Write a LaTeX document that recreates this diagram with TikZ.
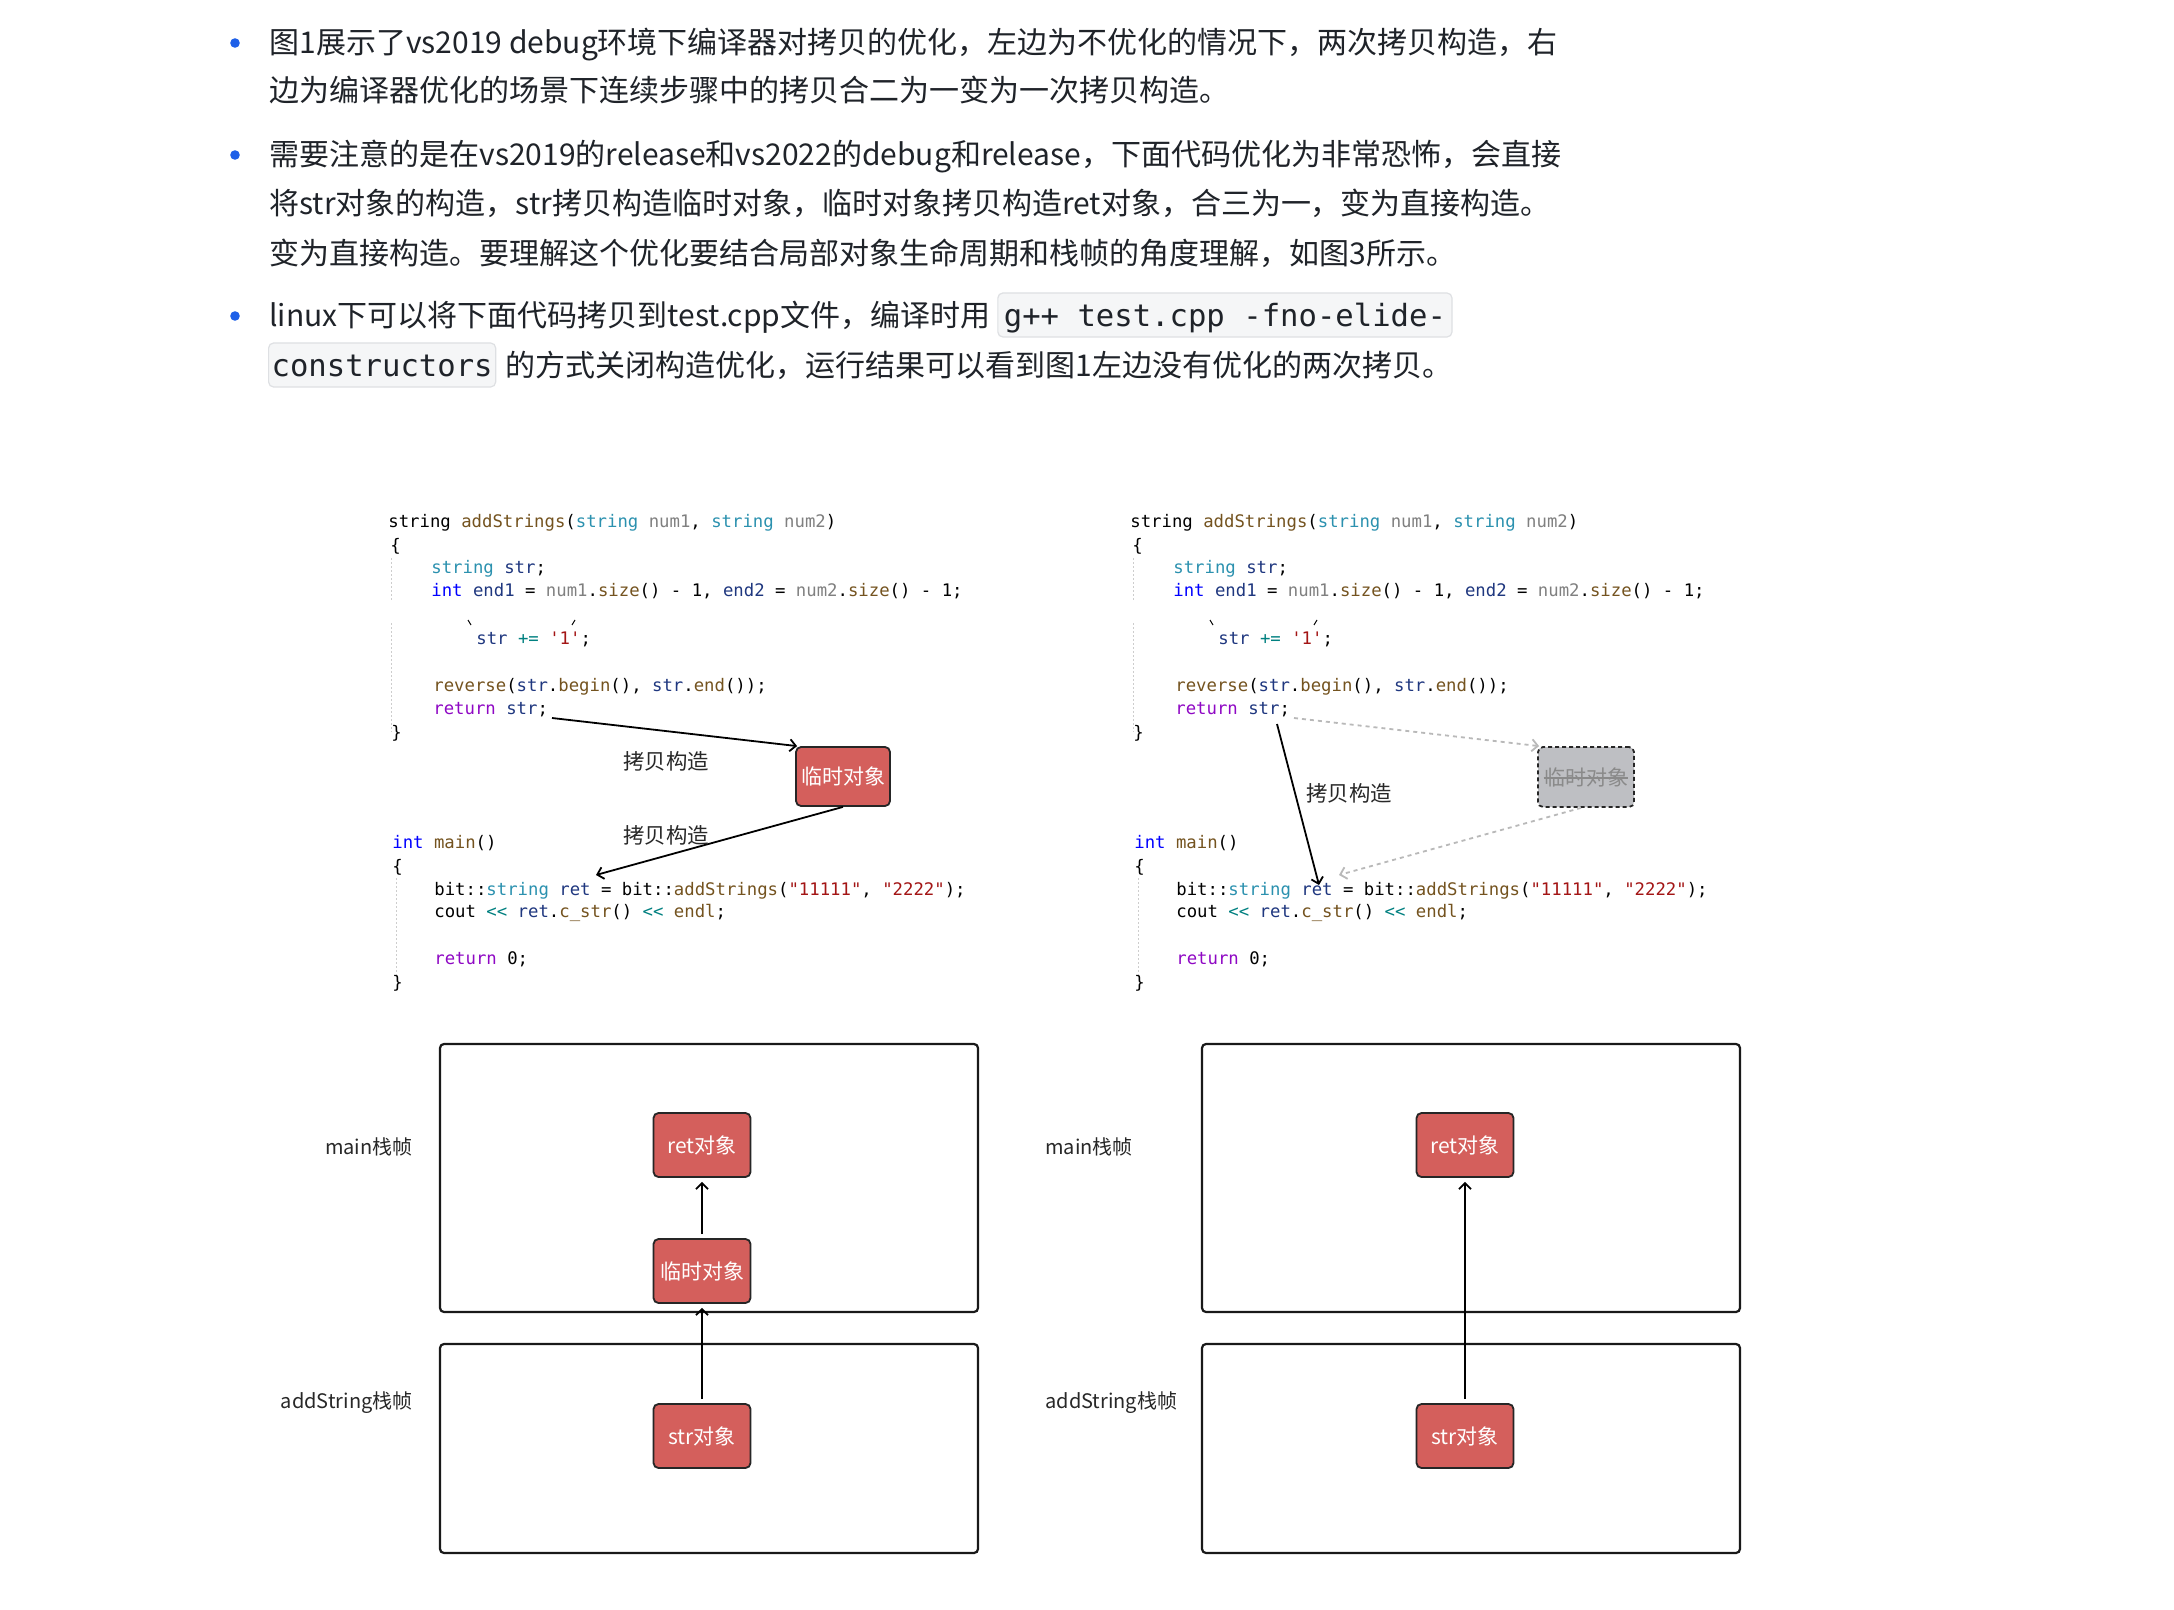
\documentclass[tikz,border=0pt]{standalone}
\usepackage{fontspec}
\setmainfont{Noto Sans CJK SC}
\setmonofont{DejaVu Sans Mono}
\usetikzlibrary{arrows.meta}
\definecolor{txt}{RGB}{31,35,41}
\definecolor{bulletc}{RGB}{30,96,232}
\definecolor{codebg}{RGB}{245,246,247}
\definecolor{codebd}{RGB}{222,224,227}
\definecolor{ctype}{RGB}{43,145,175}
\definecolor{ckw}{RGB}{0,0,255}
\definecolor{cfn}{RGB}{116,83,31}
\definecolor{cpar}{RGB}{128,128,128}
\definecolor{cloc}{RGB}{31,55,127}
\definecolor{cret}{RGB}{143,8,196}
\definecolor{cop}{RGB}{0,128,128}
\definecolor{clit}{RGB}{163,21,21}
\definecolor{objred}{RGB}{212,95,92}
\definecolor{objgray}{RGB}{190,191,195}
\definecolor{guidec}{RGB}{205,205,205}
\definecolor{ghostc}{RGB}{185,185,185}
\definecolor{ghosttxt}{RGB}{138,138,138}
\definecolor{lbl}{RGB}{40,40,40}
\newcommand\cxtype[1]{\textcolor{ctype}{#1}}
\newcommand\cxkw[1]{\textcolor{ckw}{#1}}
\newcommand\cxfn[1]{\textcolor{cfn}{#1}}
\newcommand\cxpar[1]{\textcolor{cpar}{#1}}
\newcommand\cxloc[1]{\textcolor{cloc}{#1}}
\newcommand\cxret[1]{\textcolor{cret}{#1}}
\newcommand\cxop[1]{\textcolor{cop}{#1}}
\newcommand\cxlit[1]{\textcolor{clit}{#1}}
\newcommand\codeblock[2]{%
\node[codeline] (#1h) at (#2+388,527) {string \cxfn{addStrings}(\cxtype{string} \cxpar{num1}, \cxtype{string} \cxpar{num2})};
\node[codeline] (#1b1) at (#2+390,551) {\{};
\node[codeline] (#1s1) at (#2+431,573) {\cxtype{string} \cxloc{str};};
\node[codeline] (#1s2) at (#2+431,596) {\cxkw{int} \cxloc{end1} = \cxpar{num1}.\cxfn{size}() - 1, \cxloc{end2} = \cxpar{num2}.\cxfn{size}() - 1;};
\node[codeline] (#1s3) at (#2+476,644) {\cxloc{str} \cxop{+=} \cxlit{'1'};};
\node[codeline] (#1s4) at (#2+433,691) {\cxfn{reverse}(\cxloc{str}.\cxfn{begin}(), \cxloc{str}.\cxfn{end}());};
\node[codeline] (#1s5) at (#2+433,714) {\cxret{return} \cxloc{str};};
\node[codeline] (#1b2) at (#2+391,738) {\}};
\node[codeline] (#1m1) at (#2+392,848) {\cxkw{int} \cxfn{main}()};
\node[codeline] (#1m2) at (#2+392,872) {\{};
\node[codeline] (#1m3) at (#2+434,895) {bit::\cxtype{string} \cxloc{ret} = bit::\cxfn{addStrings}(\cxlit{"11111"}, \cxlit{"2222"});};
\node[codeline] (#1m4) at (#2+434,917) {cout \cxop{<\kern0pt<} \cxloc{ret}.\cxfn{c\_str}() \cxop{<\kern0pt<} \cxfn{endl};};
\node[codeline] (#1m5) at (#2+434,964) {\cxret{return} 0;};
\node[codeline] (#1m6) at (#2+392,988) {\}};
\draw[guideline] (#2+391,558) -- (#2+391,602);
\draw[guideline] (#2+391,623) -- (#2+391,732);
\draw[guideline] (#2+396,878) -- (#2+396,975);
\draw[tickmark] (#2+468,620) -- (#2+471,625);
\draw[tickmark] (#2+575,620) -- (#2+572,625);
}
\begin{document}
\begin{tikzpicture}[x=0.5pt,y=-0.5pt,
  para/.style={anchor=base west, inner sep=0pt, text=txt, font=\fontsize{15pt}{18pt}\selectfont},
  inlinecode/.style={anchor=base west, fill=codebg, draw=codebd, line width=0.6pt, rounded corners=2.5pt, inner xsep=3.5pt, inner ysep=0pt, text height=17pt, text depth=5pt, text=txt, font=\ttfamily\fontsize{15.3pt}{18pt}\selectfont},
  codeline/.style={anchor=base west, inner sep=0pt, text=black, font=\ttfamily\fontsize{8.65pt}{10pt}\selectfont},
  guideline/.style={guidec, line width=0.5pt, dash pattern=on 1pt off 1pt},
  tickmark/.style={black, line width=0.5pt},
  objbox/.style={draw=black!85, fill=objred, rounded corners=2.5pt, line width=0.9pt, text=white, font=\fontsize{10.5pt}{12pt}\selectfont, inner sep=0pt},
  ghostbox/.style={draw=black!85, fill=objgray, rounded corners=2.5pt, line width=0.9pt, dash pattern=on 2pt off 1.5pt, inner sep=0pt},
  frame/.style={draw=black!90, rounded corners=2pt, line width=1.1pt, inner sep=0pt},
  lab/.style={text=lbl, font=\fontsize{10.7pt}{12pt}\selectfont, inner sep=0pt},
  framelab/.style={text=lbl, font=\fontsize{10pt}{12pt}\selectfont, inner sep=0pt},
  openarrow/.style={-{Straight Barb[length=3pt,width=6pt]}, line width=0.9pt, black},
  ghostarrow/.style={-{Straight Barb[length=3pt,width=6pt]}, line width=0.9pt, ghostc, dash pattern=on 2pt off 2pt}]
\path[use as bounding box, fill=white] (0,0) rectangle (2174,1610);

% ---------- paragraphs ----------
\fill[bulletc] (235,43) circle[radius=2.4pt];
\fill[bulletc] (235,155) circle[radius=2.4pt];
\fill[bulletc] (235,316) circle[radius=2.4pt];
\node[para] (p1) at (269,54) {图1展示了vs2019 debug环境下编译器对拷贝的优化，左边为不优化的情况下，两次拷贝构造，右};
\node[para] (p2) at (269,102) {边为编译器优化的场景下连续步骤中的拷贝合二为一变为一次拷贝构造。};
\node[para] (p3) at (269,166) {需要注意的是在vs2019的release和vs2022的debug和release，下面代码优化为非常恐怖，会直接};
\node[para] (p4) at (269,215) {将str对象的构造，str拷贝构造临时对象，临时对象拷贝构造ret对象，合三为一，变为直接构造。};
\node[para] (p5) at (269,265) {变为直接构造。要理解这个优化要结合局部对象生命周期和栈帧的角度理解，如图3所示。};
\node[para] (p6) at (269,327) {linux下可以将下面代码拷贝到test.cpp文件，编译时用};
\node[inlinecode, inner xsep=3pt] (cb1) at ([xshift=3.2pt]p6.base east) {g++ test.cpp -fno-elide-};
\node[inlinecode, inner xsep=1.5pt] (cb2) at (268,377) {constructors};
\node[para] (p7) at ([xshift=4.5pt]cb2.base east) {的方式关闭构造优化，运行结果可以看到图1左边没有优化的两次拷贝。};

% ---------- code blocks ----------
\codeblock{L}{0}
\codeblock{R}{742}

% left: two copies
\node[objbox, minimum width=47pt, minimum height=29.5pt] (tmpL) at (843,776.5) {临时对象};
\coordinate (La) at (552,718);
\coordinate (Lb) at (596,875);
\draw[openarrow] (La) -- ([xshift=1pt]tmpL.north west);
\draw[openarrow] (tmpL.south) -- (Lb);
\node[lab] (cpL1) at (666,761) {拷贝构造};
\node[lab] (cpL2) at (666,835) {拷贝构造};

% right: one copy
\node[ghostbox, minimum width=48pt, minimum height=30pt] (tmpR) at (1586,777) {};
\node[inner sep=0pt, text=ghosttxt, font=\fontsize{10.5pt}{12pt}\selectfont] (tmpRt) at (tmpR.center) {临时对象};
\draw[ghosttxt, line width=0.6pt] ([yshift=-0.5pt]tmpRt.west) -- ([yshift=-0.5pt]tmpRt.east);
\coordinate (Ra) at (1294,718);
\coordinate (Rb) at (1339,875);
\coordinate (Rc) at (1277,724);
\coordinate (Rd) at (1319,885);
\draw[ghostarrow] (Ra) -- ([xshift=1pt]tmpR.north west);
\draw[ghostarrow] ([xshift=-2.5pt]tmpR.south) -- (Rb);
\draw[openarrow] (Rc) -- (Rd);
\node[lab] (cpR) at (1349,793) {拷贝构造};

% ---------- stack frames ----------
\node[frame, minimum width=269pt, minimum height=134pt] (mainL) at (709,1178) {};
\node[frame, minimum width=269pt, minimum height=104.5pt] (addL) at (709,1448.5) {};
\node[frame, minimum width=269pt, minimum height=134pt] (mainR) at (1471,1178) {};
\node[frame, minimum width=269pt, minimum height=104.5pt] (addR) at (1471,1448.5) {};

\node[objbox, minimum width=48.5pt, minimum height=32pt] (retL) at (702,1145) {ret对象};
\node[objbox, minimum width=48.5pt, minimum height=32pt] (tmpLb) at (702,1271) {临时对象};
\node[objbox, minimum width=48.5pt, minimum height=32pt] (strL) at (702,1436) {str对象};
\node[objbox, minimum width=48.5pt, minimum height=32pt] (retR) at (1465,1145) {ret对象};
\node[objbox, minimum width=48.5pt, minimum height=32pt] (strR) at (1465,1436) {str对象};

\draw[openarrow] ([yshift=2pt]tmpLb.north) -- ([yshift=-2pt]retL.south);
\draw[openarrow] ([yshift=2pt]strL.north) -- ([yshift=-2pt]tmpLb.south);
\draw[openarrow] ([yshift=2pt]strR.north) -- ([yshift=-2pt]retR.south);

\node[framelab, anchor=east] (lmL) at (413,1147) {main栈帧};
\node[framelab, anchor=east] (laL) at (413,1403) {addString栈帧};
\node[framelab, anchor=west] (lmR) at (1045,1147) {main栈帧};
\node[framelab, anchor=west] (laR) at (1045,1403) {addString栈帧};
\end{tikzpicture}
\end{document}
